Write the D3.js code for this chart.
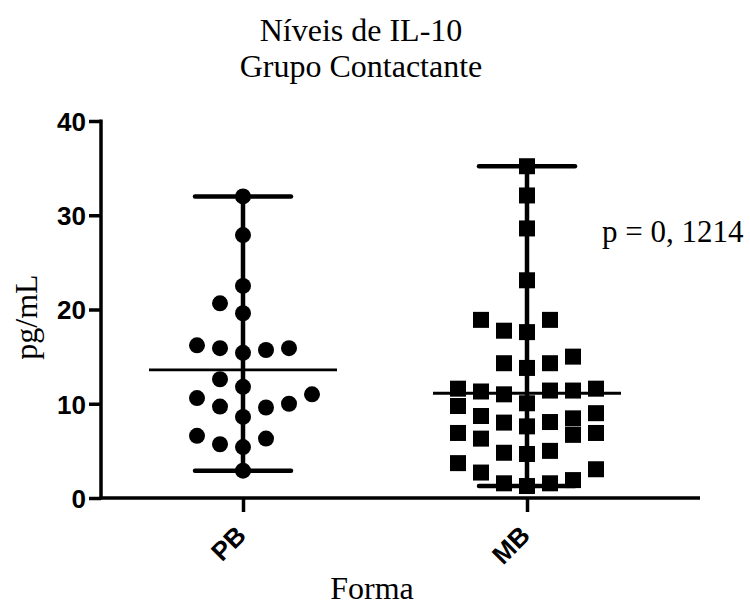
<!DOCTYPE html>
<html>
<head>
<meta charset="utf-8">
<script src="https://cdn.jsdelivr.net/npm/d3@7"></script>
<style>
  html, body { margin: 0; padding: 0; background: #fff; }
  svg { display: block; }
</style>
</head>
<body>
<svg id="chart" width="750" height="608"></svg>
<script>
// Groups on the x axis
const categories = ["PB", "MB"];

// IL-10 levels (pg/mL), PB group
const pbValues = [32.0, 27.9, 22.5, 20.65, 19.6, 16.2, 15.9, 15.4, 15.7, 15.9,
                  12.6, 11.8, 10.6, 9.7, 8.6, 9.6, 10.0, 11.0, 6.6, 5.7, 5.4, 6.3, 2.9];
// column-scatter slot of each PB point (0 = centre of the column)
const pbSlots  = [0, 0, 0, -1, 0, -2, -1, 0, 1, 2,
                  -1, 0, -2, -1, 0, 1, 2, 3, -2, -1, 0, 1, 0];

// IL-10 levels (pg/mL), MB group
const mbValues = [35.2, 32.1, 28.6, 23.1,
                  18.9, 17.75, 17.6, 18.9,
                  14.3, 13.8, 14.3, 15.0,
                  11.6, 11.3, 11.0, 11.4, 11.4, 11.6,
                  9.76, 10.05, 9.0,
                  8.7, 8.0, 7.6, 8.06, 8.45,
                  6.9, 6.3, 6.7, 6.9,
                  4.8, 4.67, 5.0,
                  3.7, 2.7, 3.05,
                  1.56, 1.27, 1.56, 1.9];
const mbSlots  = [0, 0, 0, 0,
                  -2, -1, 0, 1,
                  -1, 0, 1, 2,
                  -3, -2, -1, 1, 2, 3,
                  -3, 0, 3,
                  -2, -1, 0, 1, 2,
                  -3, -2, 2, 3,
                  -1, 0, 1,
                  -3, -2, 3,
                  -1, 0, 1, 2];

const yTicks = [0, 10, 20, 30, 40];

const titleLines = ["Níveis de IL-10", "Grupo Contactante"];
const yLabel = "pg/mL";
const xLabel = "Forma";
const pText = "p = 0, 1214";

const svg = d3.select("#chart");
const serif = "'Liberation Serif', 'Times New Roman', serif";
const sans = "'Liberation Sans', Arial, sans-serif";

const plotLeft = 101, plotRight = 700, plotTop = 121, plotBottom = 498;

const y = d3.scaleLinear().domain([0, 40]).range([plotBottom, plotTop]);
const x = d3.scalePoint().domain(categories).range([plotLeft, 669]).padding(0.5);
const slotW = 23;

// y axis
const yAxis = svg.append("g")
  .attr("transform", `translate(${plotLeft},0)`)
  .call(d3.axisLeft(y).tickValues(yTicks).tickSize(12).tickPadding(3).tickSizeOuter(0));
yAxis.select(".domain").attr("stroke", "#000").attr("stroke-width", 3.5)
  .attr("d", `M0,${plotTop - 1.5}V${plotBottom + 1.5}`);
yAxis.selectAll(".tick line").attr("stroke", "#000").attr("stroke-width", 3.5);
yAxis.selectAll(".tick text")
  .attr("font-family", sans).attr("font-weight", "bold").attr("font-size", 26)
  .attr("fill", "#000").attr("dy", "0.36em");

// x axis
const xAxis = svg.append("g")
  .attr("transform", `translate(0,${plotBottom})`)
  .call(d3.axisBottom(x).tickSize(14).tickSizeOuter(0).tickFormat(() => ""));
xAxis.select(".domain").attr("stroke", "#000").attr("stroke-width", 3.5)
  .attr("d", `M${plotLeft - 1.5},0H${plotRight}`);
xAxis.selectAll(".tick line").attr("stroke", "#000").attr("stroke-width", 3.5);
xAxis.selectAll(".tick").append("text")
  .attr("font-family", sans).attr("font-weight", "bold").attr("font-size", 26)
  .attr("fill", "#000").attr("text-anchor", "end")
  .attr("transform", "translate(-9,26) rotate(-45)")
  .attr("dy", "0.71em")
  .text(d => d);

// one column per group: points, range line with caps, mean line
const groups = [
  { key: "PB", values: pbValues, slots: pbSlots, shape: "circle" },
  { key: "MB", values: mbValues, slots: mbSlots, shape: "square" }
];

groups.forEach(gr => {
  const cx = x(gr.key);
  const [lo, hi] = d3.extent(gr.values);
  const mean = d3.mean(gr.values);
  const g = svg.append("g");

  // range line
  g.append("line").attr("x1", cx).attr("x2", cx).attr("y1", y(lo)).attr("y2", y(hi))
    .attr("stroke", "#000").attr("stroke-width", 4.5);
  // caps at min and max
  [lo, hi].forEach(v => {
    g.append("line").attr("x1", cx - 48).attr("x2", cx + 48)
      .attr("y1", y(v)).attr("y2", y(v))
      .attr("stroke", "#000").attr("stroke-width", 4.5).attr("stroke-linecap", "round");
  });
  // mean line
  g.append("line").attr("x1", cx - 94).attr("x2", cx + 94)
    .attr("y1", y(mean)).attr("y2", y(mean))
    .attr("stroke", "#000").attr("stroke-width", 2.8);

  const pts = gr.values.map((v, i) => ({ v, s: gr.slots[i] }));
  if (gr.shape === "circle") {
    g.selectAll("circle.pt").data(pts).join("circle")
      .attr("class", "pt")
      .attr("cx", d => cx + d.s * slotW).attr("cy", d => y(d.v)).attr("r", 8)
      .attr("fill", "#000");
  } else {
    g.selectAll("rect.pt").data(pts).join("rect")
      .attr("class", "pt")
      .attr("x", d => cx + d.s * slotW - 8).attr("y", d => y(d.v) - 8)
      .attr("width", 16).attr("height", 16)
      .attr("fill", "#000");
  }
});

// titles and labels
const title = svg.append("text")
  .attr("font-family", serif).attr("font-size", 32).attr("fill", "#000")
  .attr("text-anchor", "middle");
titleLines.forEach((t, i) => {
  title.append("tspan").attr("x", 361).attr("y", 41 + i * 36).text(t);
});

svg.append("text")
  .attr("font-family", serif).attr("font-size", 32).attr("fill", "#000")
  .attr("text-anchor", "middle")
  .attr("transform", "translate(37,317) rotate(-90)")
  .text(yLabel);

svg.append("text")
  .attr("font-family", serif).attr("font-size", 32).attr("fill", "#000")
  .attr("text-anchor", "middle")
  .attr("x", 372).attr("y", 599)
  .text(xLabel);

svg.append("text")
  .attr("font-family", serif).attr("font-size", 31).attr("fill", "#000")
  .attr("x", 602).attr("y", 242)
  .text(pText);
</script>
</body>
</html>
